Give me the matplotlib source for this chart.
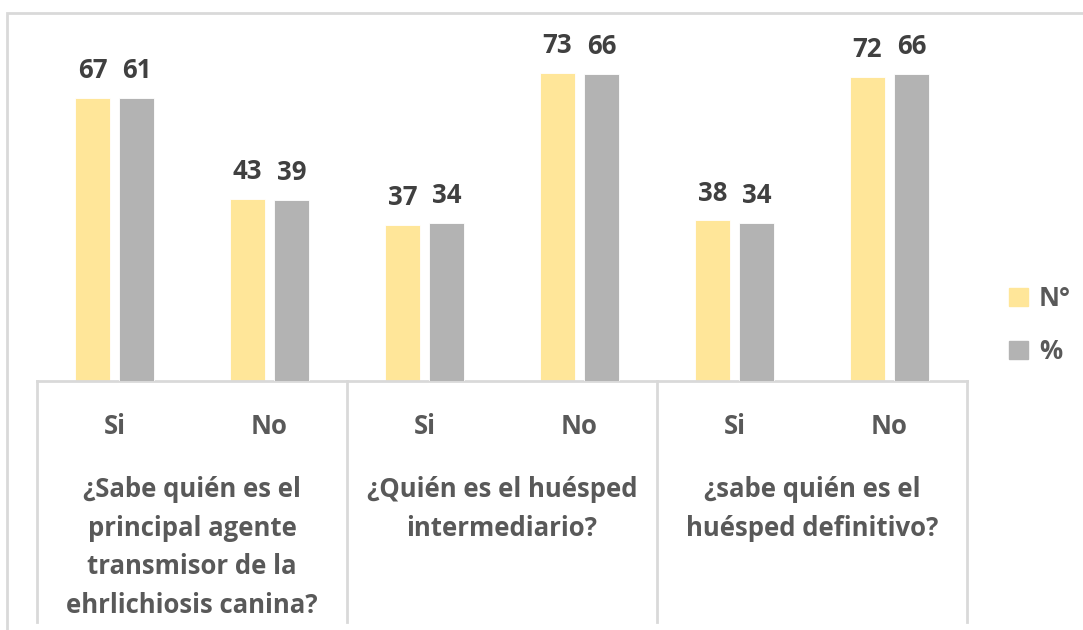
import matplotlib.pyplot as plt
from matplotlib.patches import Patch, Rectangle
from matplotlib.transforms import blended_transform_factory

plt.rcParams['font.family'] = ['Open Sans', 'DejaVu Sans']

# datos del grafico
respuestas = ["Si", "No", "Si", "No", "Si", "No"]
preguntas = [
    "¿Sabe quién es el\nprincipal agente\ntransmisor de la\nehrlichiosis canina?",
    "¿Quién es el huésped\nintermediario?",
    "¿sabe quién es el\nhuésped definitivo?",
]
numero = [67, 43, 37, 73, 38, 72]
porcentaje = [61, 39, 34, 66, 34, 66]
total = 110  # encuestados, el % va en eje secundario

COLOR_N = "#FFE699"
COLOR_P = "#B3B3B3"
COLOR_LINEA = "#D9D9D9"
COLOR_TEXTO = "#595959"
COLOR_ETIQ = "#404040"
TAM = 18.5

W, H = 1083, 630
fig = plt.figure(figsize=(W / 100, H / 100), dpi=100)

# marco exterior del grafico
fig.patches.append(Rectangle((7 / W, -0.1), 1.2, (H - 13) / H + 0.1,
                             transform=fig.transFigure, fill=False,
                             edgecolor=COLOR_LINEA, linewidth=2))

caja = [37 / W, (H - 381) / H, 930 / W, (381 - 43) / H]
ax = fig.add_axes(caja)
ax2 = ax.twinx()

x = list(range(len(respuestas)))
ancho = 0.225
desp = 0.142
barras_n = ax.bar([i - desp for i in x], numero, width=ancho, color=COLOR_N,
                  edgecolor="white", linewidth=0.6, label="N°")
barras_p = ax2.bar([i + desp for i in x], porcentaje, width=ancho, color=COLOR_P,
                   edgecolor="white", linewidth=0.6, label="%")

ax.set_xlim(-0.5, 5.5)
ax.set_ylim(0, 80)
ax2.set_ylim(0, 80 * 100 / total)

for eje, barras in ((ax, barras_n), (ax2, barras_p)):
    for b in barras:
        eje.annotate(f"{int(b.get_height())}",
                     (b.get_x() + b.get_width() / 2, b.get_height()),
                     xytext=(0, 10), textcoords="offset points",
                     ha="center", va="bottom", fontsize=TAM,
                     fontweight="bold", color=COLOR_ETIQ)

for eje in (ax, ax2):
    eje.set_yticks([])
    eje.set_xticks([])
    for s in ["top", "right", "left"]:
        eje.spines[s].set_visible(False)
ax2.spines["bottom"].set_visible(False)
ax.spines["bottom"].set_color(COLOR_LINEA)
ax.spines["bottom"].set_linewidth(2)

# eje de categorias en dos niveles
trans = blended_transform_factory(ax.transData, ax.transAxes)
bajo = -(622 - 381) / (381 - 43)
for xb in [-0.5, 1.5, 3.5, 5.5]:
    ax.plot([xb, xb], [0, bajo], transform=trans, color=COLOR_LINEA,
            linewidth=2, clip_on=False)

px = 1 / (381 - 43)
for i, r in enumerate(respuestas):
    ax.text(i, -(426 - 381) * px, r, transform=trans, ha="center",
            va="center", fontsize=TAM, fontweight="bold", color=COLOR_TEXTO)

for j, p in enumerate(preguntas):
    ax.text(2 * j + 0.5, -(476 - 381) * px, p, transform=trans, ha="center",
            va="top", fontsize=TAM, fontweight="bold", color=COLOR_TEXTO,
            linespacing=1.55)

leyenda = [Patch(color=COLOR_N, label="N°"), Patch(color=COLOR_P, label="%")]
fig.legend(handles=leyenda, loc="center left",
           bbox_to_anchor=(1009 / W, (H - 325) / H), frameon=False,
           borderpad=0, borderaxespad=0,
           prop={"size": TAM, "weight": "bold"}, labelcolor=COLOR_TEXTO,
           handlelength=0.72, handleheight=0.72, handletextpad=0.45,
           labelspacing=1.0)

fig.savefig("out.png", dpi=100)
